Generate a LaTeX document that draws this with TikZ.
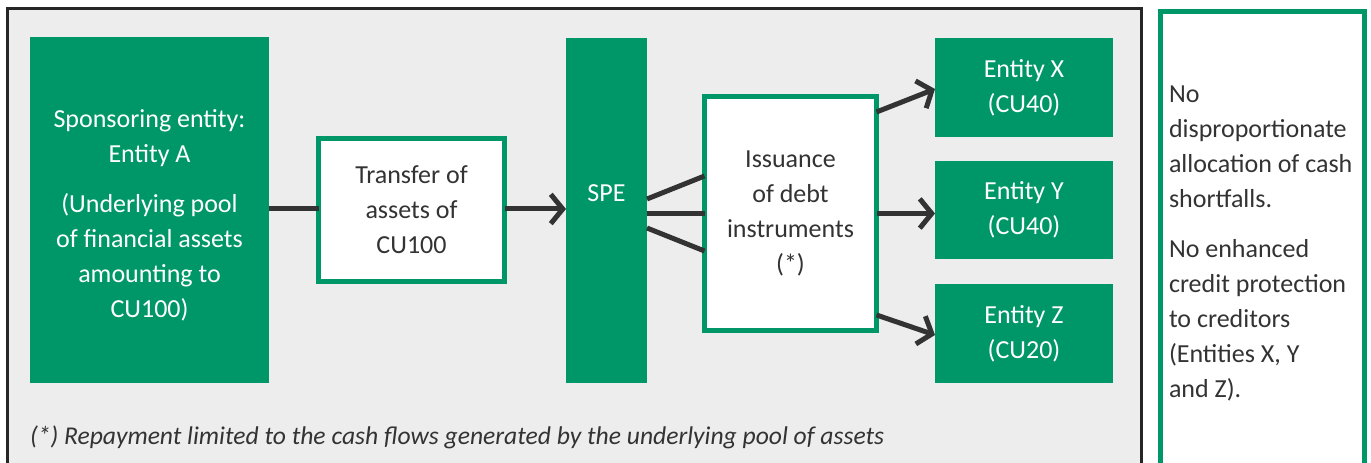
\documentclass[tikz,border=0pt]{standalone}
\usepackage{fontspec}
\setmainfont{Carlito}
\usetikzlibrary{arrows.meta,calc}
\definecolor{kgreen}{RGB}{0,151,104}
\definecolor{kgray}{RGB}{237,237,237}
\definecolor{kdark}{RGB}{51,51,51}
\tikzset{
  txt/.style={font=\fontsize{19.5}{26.25}\selectfont, align=center, inner sep=0pt, outer sep=0pt},
  gbox/.style={txt, fill=kgreen, text=white, draw=none},
  wbox/.style={txt, fill=white, draw=kgreen, line width=3.75pt, text=kdark},
  conn/.style={draw=kdark, line width=3.75pt},
  arr/.style={conn, -{Straight Barb[length=9pt,width=22pt,line width=3.75pt]}},
}
\begin{document}
\begin{tikzpicture}[x=0.75pt,y=-0.75pt]
\useasboundingbox (0,0) rectangle (1371,463);
% panels
\draw[fill=kgray, draw=black!85, line width=2.25pt] (7.5,8.5) rectangle (1141.5,480);
\draw[fill=white, draw=kgreen, line width=3.75pt] (1160.5,11.3) rectangle (1364.5,480);
% boxes
\node[gbox, minimum width=239*0.75pt, minimum height=346*0.75pt] (spons) at (149.5,210)
  {\\[-4.5pt]Sponsoring entity:\\Entity A\\[11.25pt](Underlying pool\\of financial assets\\amounting to\\CU100)};
\node[wbox, minimum width=186*0.75pt, minimum height=143*0.75pt] (transfer) at (411.5,210)
  {Transfer of\\assets of\\CU100};
\node[gbox, minimum width=81*0.75pt, minimum height=345*0.75pt] (spe) at (606.5,210.5) {};
\node[txt, text=white] (spelabel) at (606.5,193) {SPE};
\node[wbox, minimum width=172*0.75pt, minimum height=234*0.75pt] (iss) at (790.5,213.5)
  {Issuance\\of debt\\instruments\\(*)};
\node[gbox, minimum width=178*0.75pt, minimum height=99*0.75pt] (ex) at (1024,87.5) {Entity X\\(CU40)};
\node[gbox, minimum width=178*0.75pt, minimum height=98*0.75pt] (ey) at (1024,210) {Entity Y\\(CU40)};
\node[gbox, minimum width=178*0.75pt, minimum height=99*0.75pt] (ez) at (1024,333.5) {Entity Z\\(CU20)};
% connectors
\draw[conn] (spons.east |- 0,209) coordinate (s1) -- (transfer.west |- s1);
\draw[arr] (transfer.east |- s1) -- (spe.west |- s1);
\draw[conn] ($(spe.east)+(0,-11.5)$) -- ($(iss.west)+(0,-37.5)$);
\draw[conn] (spe.east |- iss.west) -- (iss.west);
\draw[conn] ($(spe.east)+(0,17.5)$) -- ($(iss.west)+(0,37.5)$);
\draw[arr] ($(iss.east)+(0,-101.5)$) -- ($(ex.west)+(0,1.5)$);
\draw[arr] (iss.east) -- (iss.east -| ey.west);
\draw[arr] ($(iss.east)+(0,101.5)$) -- ($(ez.west)+(0,1.5)$);
% notes
\node[txt, align=left, anchor=north west, text=kdark] (note) at (1169,86)
  {No\\disproportionate\\allocation of cash\\shortfalls.\\[11.25pt]No enhanced\\credit protection\\to creditors\\(Entities X, Y\\and Z).};
\node[txt, font=\fontsize{19.2}{26.25}\selectfont\itshape, anchor=west, text=kdark] (foot) at (30,437)
  {(*) Repayment limited to the cash flows generated by the underlying pool of assets};
\end{tikzpicture}
\end{document}
